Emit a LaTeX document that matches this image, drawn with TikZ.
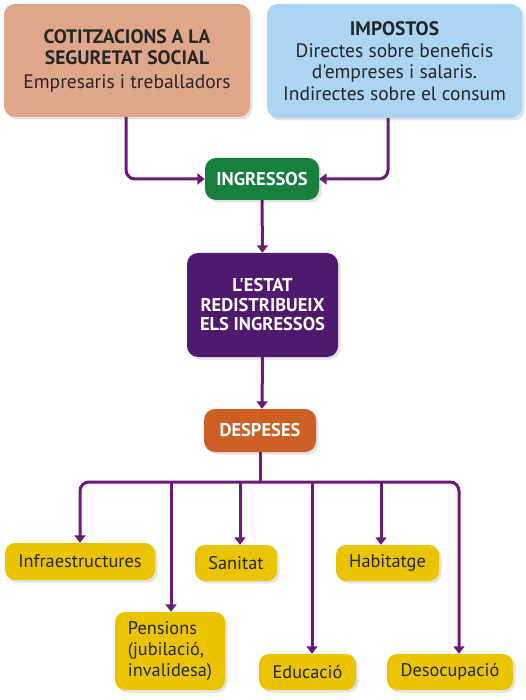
\documentclass[tikz,border=0pt]{standalone}
\usepackage{fontspec}
\setmainfont{PT Sans}[Ligatures=TeXOff]
\usetikzlibrary{arrows.meta,shadows}
\definecolor{salmon}{HTML}{E0A68A}
\definecolor{skyb}{HTML}{ABD5F2}
\definecolor{ingg}{HTML}{17803F}
\definecolor{estp}{HTML}{4F1A6E}
\definecolor{despo}{HTML}{CC5F23}
\definecolor{yel}{HTML}{EBC400}
\definecolor{linep}{HTML}{6B1A78}
\tikzset{
  box/.style={rounded corners=11pt, inner sep=0pt, align=center,
    drop shadow={opacity=0.22, shadow xshift=2.5pt, shadow yshift=-2.5pt}},
  topbox/.style={box, font=\fontsize{19.5}{21.5}\selectfont, text=black!85},
  midbox/.style={box, font=\fontsize{18.5}{19.5}\selectfont\bfseries, text=white},
  ybox/.style={box, fill=yel, rounded corners=10pt, font=\fontsize{18.3}{21}\selectfont, text=black!85},
  arr/.style={draw=linep, line width=3pt, rounded corners=9pt,
    -{Triangle[width=11pt,length=7.5pt]}},
  ln/.style={draw=linep, line width=3pt}
}
\begin{document}
\begin{tikzpicture}[x=1pt,y=-1pt]
\useasboundingbox (0,0) rectangle (526,700);
\node[topbox, fill=salmon, minimum width=246, minimum height=113] (cot) at (127,60.5)
  {{\bfseries COTITZACIONS A LA}\\{\bfseries SEGURETAT SOCIAL}\\[2pt]Empresaris i treballadors};
\node[topbox, fill=skyb, minimum width=255, minimum height=114] (imp) at (394.5,61)
  {{\bfseries IMPOSTOS}\\Directes sobre beneficis\\d'empreses i salaris.\\Indirectes sobre el consum};
\node[midbox, fill=ingg, minimum width=114, minimum height=42] (ing) at (262,179) {INGRESSOS};
\node[midbox, fill=estp, minimum width=151, minimum height=104] (est) at (262.5,305)
  {L'ESTAT\\REDISTRIBUEIX\\ELS INGRESSOS};
\node[midbox, fill=despo, minimum width=112, minimum height=43] (desp) at (260,430.5) {DESPESES};
\node[ybox, minimum width=150, minimum height=37] (infra) at (80,561.5) {Infraestructures};
\node[ybox, minimum width=110, minimum height=78, align=left] (pens) at (170,651)
  {Pensions\\(jubilació,\\invalidesa)};
\node[ybox, minimum width=82, minimum height=36] (san) at (236,563) {Sanitat};
\node[ybox, minimum width=97, minimum height=36] (edu) at (307.5,672) {Educació};
\node[ybox, minimum width=103, minimum height=36] (hab) at (387.5,563) {Habitatge};
\node[ybox, minimum width=126, minimum height=36] (deso) at (450,672) {Desocupació};
% top connectors
\draw[arr] ([xshift=-1pt]cot.south) |- (ing.west);
\draw[arr] ([xshift=-6.5pt]imp.south) |- (ing.east);
\draw[arr] (ing.south) -- (est.north);
\draw[arr] (est.south) -- ([xshift=-0.5pt]est.south |- desp.north);
% bottom tree
\coordinate (hub) at (260,482);
\draw[ln] (desp.south) -- (hub);
\coordinate (sanT) at ([xshift=4pt]san.north);
\coordinate (habT) at ([xshift=-6.5pt]hab.north);
\coordinate (pensT) at ([xshift=1pt]pens.north);
\coordinate (eduT) at ([xshift=4.5pt]edu.north);
\coordinate (desoT) at ([xshift=9pt]deso.north);
\draw[arr] (hub) -| (infra.north);
\draw[arr] (hub) -| (desoT);
\draw[arr] (pensT |- hub) -- (pensT);
\draw[arr] (sanT |- hub) -- (sanT);
\draw[arr] (eduT |- hub) -- (eduT);
\draw[arr] (habT |- hub) -- (habT);
\end{tikzpicture}
\end{document}
